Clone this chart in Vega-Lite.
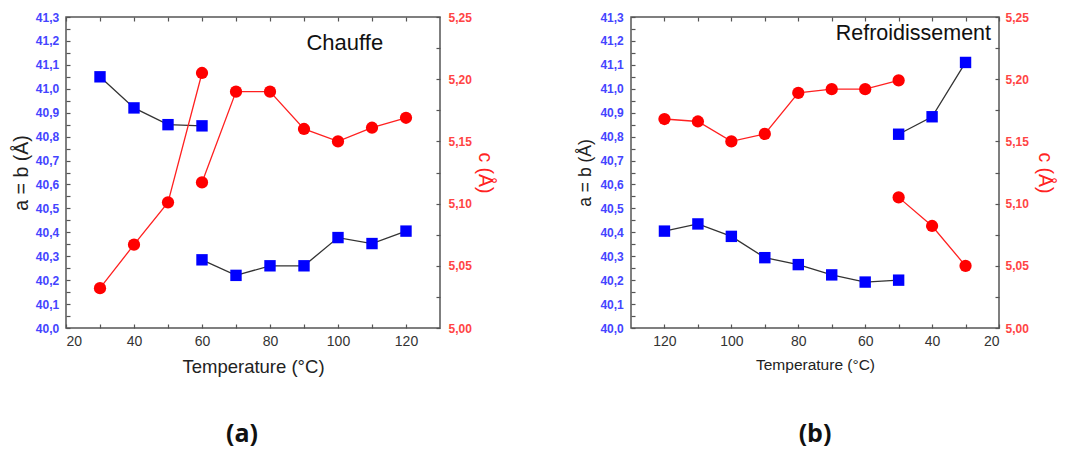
{
  "$schema": "https://vega.github.io/schema/vega-lite/v6.json",
  "background": "white",
  "padding": {"left": 10, "top": 10, "right": 5, "bottom": 0},
  "config": {
    "font": "Liberation Sans",
    "view": {"stroke": "#555555", "strokeWidth": 1.5},
    "concat": {"spacing": 80},
    "axis": {"domain": false, "grid": false, "labelOverlap": false, "tickColor": "#555555", "tickSize": -4, "tickWidth": 1.2}
  },
  "datasets": {
    "heat": [
      {"T": 30, "param": "a", "seg": 1, "value": 41.05},
      {"T": 40, "param": "a", "seg": 1, "value": 40.92},
      {"T": 50, "param": "a", "seg": 1, "value": 40.85},
      {"T": 60, "param": "a", "seg": 1, "value": 40.845},
      {"T": 60, "param": "a", "seg": 2, "value": 40.285},
      {"T": 70, "param": "a", "seg": 2, "value": 40.22},
      {"T": 80, "param": "a", "seg": 2, "value": 40.26},
      {"T": 90, "param": "a", "seg": 2, "value": 40.26},
      {"T": 100, "param": "a", "seg": 2, "value": 40.378},
      {"T": 110, "param": "a", "seg": 2, "value": 40.353},
      {"T": 120, "param": "a", "seg": 2, "value": 40.405},
      {"T": 30, "param": "c", "seg": 1, "value": 5.032},
      {"T": 40, "param": "c", "seg": 1, "value": 5.067},
      {"T": 50, "param": "c", "seg": 1, "value": 5.101},
      {"T": 60, "param": "c", "seg": 1, "value": 5.205},
      {"T": 60, "param": "c", "seg": 2, "value": 5.117},
      {"T": 70, "param": "c", "seg": 2, "value": 5.19},
      {"T": 80, "param": "c", "seg": 2, "value": 5.19},
      {"T": 90, "param": "c", "seg": 2, "value": 5.16},
      {"T": 100, "param": "c", "seg": 2, "value": 5.15},
      {"T": 110, "param": "c", "seg": 2, "value": 5.161},
      {"T": 120, "param": "c", "seg": 2, "value": 5.169}
    ],
    "cool": [
      {"T": 120, "param": "a", "seg": 1, "value": 40.405},
      {"T": 110, "param": "a", "seg": 1, "value": 40.435},
      {"T": 100, "param": "a", "seg": 1, "value": 40.383},
      {"T": 90, "param": "a", "seg": 1, "value": 40.294},
      {"T": 80, "param": "a", "seg": 1, "value": 40.265},
      {"T": 70, "param": "a", "seg": 1, "value": 40.222},
      {"T": 60, "param": "a", "seg": 1, "value": 40.192},
      {"T": 50, "param": "a", "seg": 1, "value": 40.2},
      {"T": 50, "param": "a", "seg": 2, "value": 40.81},
      {"T": 40, "param": "a", "seg": 2, "value": 40.883},
      {"T": 30, "param": "a", "seg": 2, "value": 41.11},
      {"T": 120, "param": "c", "seg": 1, "value": 5.168},
      {"T": 110, "param": "c", "seg": 1, "value": 5.166},
      {"T": 100, "param": "c", "seg": 1, "value": 5.15},
      {"T": 90, "param": "c", "seg": 1, "value": 5.156},
      {"T": 80, "param": "c", "seg": 1, "value": 5.189},
      {"T": 70, "param": "c", "seg": 1, "value": 5.192},
      {"T": 60, "param": "c", "seg": 1, "value": 5.192},
      {"T": 50, "param": "c", "seg": 1, "value": 5.199},
      {"T": 50, "param": "c", "seg": 2, "value": 5.105},
      {"T": 40, "param": "c", "seg": 2, "value": 5.082},
      {"T": 30, "param": "c", "seg": 2, "value": 5.05}
    ],
    "notes": [
      {"panel": "heat", "T": 102, "value": 41.193, "label": "Chauffe"},
      {"panel": "cool", "T": 45.6, "value": 41.227, "label": "Refroidissement"}
    ]
  },
  "hconcat": [
    {
      "width": 374,
      "height": 311,
      "title": {"text": "(a)", "orient": "bottom", "fontSize": 25, "fontWeight": "bold", "font": "Open Sans", "color": "#111111", "offset": 46, "anchor": "middle", "frame": "group", "dx": -11},
      "resolve": {"scale": {"y": "independent"}, "axis": {"x": "independent", "y": "independent"}},
      "layer": [
        {
          "encoding": {
            "x": {"field": "T", "type": "quantitative", "scale": {"domain": [20, 130], "nice": false},
              "axis": {"values": [20, 30, 40, 50, 60, 70, 80, 90, 100, 110, 120], "labelExpr": "datum.value % 20 == 0 ? datum.value : ''", "title": "Temperature (°C)", "titleFontSize": 18.5, "titleFontWeight": "normal", "titleColor": "#222222", "titlePadding": 9, "labelFontSize": 14, "labelColor": "#333333", "labelPadding": 10.7}},
            "y": {"field": "value", "type": "quantitative", "scale": {"domain": [40.0, 41.3], "nice": false, "zero": false},
              "axis": {"orient": "left", "values": [40.0, 40.05, 40.1, 40.15, 40.2, 40.25, 40.3, 40.35, 40.4, 40.45, 40.5, 40.55, 40.6, 40.65, 40.7, 40.75, 40.8, 40.85, 40.9, 40.95, 41.0, 41.05, 41.1, 41.15, 41.2, 41.25, 41.3], "labelExpr": "abs(datum.value * 10 - round(datum.value * 10)) < 0.001 ? replace(format(datum.value, '.1f'), '.', ',') : ''", "title": "a = b (Å)", "titleFontSize": 19.5, "titleFontWeight": "normal", "titleColor": "#222222", "titlePadding": 4, "labelFontSize": 12, "labelFontWeight": "bold", "labelColor": "#4444ff", "labelPadding": 11.3}}
          },
          "layer": [
            {"data": {"name": "heat"}, "transform": [{"filter": "datum.param == 'a'"}], "mark": {"type": "line", "color": "#333333", "strokeWidth": 1.3}, "encoding": {"detail": {"field": "seg"}}},
            {"data": {"name": "heat"}, "transform": [{"filter": "datum.param == 'a'"}], "mark": {"type": "point", "shape": "square", "filled": true, "color": "#0000ff", "opacity": 1, "size": 130}},
            {"data": {"name": "notes"}, "transform": [{"filter": "datum.panel == 'heat'"}], "mark": {"type": "text", "fontSize": 22, "color": "#111111", "align": "center", "baseline": "middle"}, "encoding": {"text": {"field": "label"}}}
          ]
        },
        {
          "data": {"name": "heat"},
          "transform": [{"filter": "datum.param == 'c'"}],
          "encoding": {
            "x": {"field": "T", "type": "quantitative", "scale": {"domain": [20, 130], "nice": false},
              "axis": {"orient": "top", "values": [20, 30, 40, 50, 60, 70, 80, 90, 100, 110, 120], "labels": false, "title": null}},
            "y": {"field": "value", "type": "quantitative", "scale": {"domain": [5.0, 5.25], "nice": false, "zero": false},
              "axis": {"orient": "right", "values": [5.0, 5.025, 5.05, 5.075, 5.1, 5.125, 5.15, 5.175, 5.2, 5.225, 5.25], "labelExpr": "abs(datum.value * 20 - round(datum.value * 20)) < 0.001 ? replace(format(datum.value, '.2f'), '.', ',') : ''", "title": "c (Å)", "titleFontSize": 19.5, "titleFontWeight": "normal", "titleColor": "#ff2222", "titlePadding": 3, "labelFontSize": 12, "labelFontWeight": "bold", "labelColor": "#ff4444", "labelPadding": 12}}
          },
          "layer": [
            {"mark": {"type": "line", "color": "#ff2020", "strokeWidth": 1.3}, "encoding": {"detail": {"field": "seg"}}},
            {"mark": {"type": "point", "shape": "circle", "filled": true, "color": "#ff0000", "opacity": 1, "size": 150}}
          ]
        }
      ]
    },
    {
      "width": 368,
      "height": 311,
      "title": {"text": "(b)", "orient": "bottom", "fontSize": 25, "fontWeight": "bold", "font": "Open Sans", "color": "#111111", "offset": 49, "anchor": "middle", "frame": "group"},
      "resolve": {"scale": {"y": "independent"}, "axis": {"x": "independent", "y": "independent"}},
      "layer": [
        {
          "encoding": {
            "x": {"field": "T", "type": "quantitative", "scale": {"domain": [20, 130], "nice": false, "reverse": true},
              "axis": {"values": [20, 30, 40, 50, 60, 70, 80, 90, 100, 110, 120], "labelExpr": "datum.value % 20 == 0 ? datum.value : ''", "title": "Temperature (°C)", "titleFontSize": 15.5, "titleFontWeight": "normal", "titleColor": "#222222", "titlePadding": 9, "labelFontSize": 14, "labelColor": "#333333", "labelPadding": 10.7}},
            "y": {"field": "value", "type": "quantitative", "scale": {"domain": [40.0, 41.3], "nice": false, "zero": false},
              "axis": {"orient": "left", "values": [40.0, 40.05, 40.1, 40.15, 40.2, 40.25, 40.3, 40.35, 40.4, 40.45, 40.5, 40.55, 40.6, 40.65, 40.7, 40.75, 40.8, 40.85, 40.9, 40.95, 41.0, 41.05, 41.1, 41.15, 41.2, 41.25, 41.3], "labelExpr": "abs(datum.value * 10 - round(datum.value * 10)) < 0.001 ? replace(format(datum.value, '.1f'), '.', ',') : ''", "title": "a = b (Å)", "titleFontSize": 17.5, "titleFontWeight": "normal", "titleColor": "#222222", "titlePadding": 5, "labelFontSize": 12, "labelFontWeight": "bold", "labelColor": "#4444ff", "labelPadding": 11.7}}
          },
          "layer": [
            {"data": {"name": "cool"}, "transform": [{"filter": "datum.param == 'a'"}], "mark": {"type": "line", "color": "#333333", "strokeWidth": 1.3}, "encoding": {"detail": {"field": "seg"}}},
            {"data": {"name": "cool"}, "transform": [{"filter": "datum.param == 'a'"}], "mark": {"type": "point", "shape": "square", "filled": true, "color": "#0000ff", "opacity": 1, "size": 130}},
            {"data": {"name": "notes"}, "transform": [{"filter": "datum.panel == 'cool'"}], "mark": {"type": "text", "fontSize": 21.5, "color": "#111111", "align": "center", "baseline": "middle"}, "encoding": {"text": {"field": "label"}}}
          ]
        },
        {
          "data": {"name": "cool"},
          "transform": [{"filter": "datum.param == 'c'"}],
          "encoding": {
            "x": {"field": "T", "type": "quantitative", "scale": {"domain": [20, 130], "nice": false, "reverse": true},
              "axis": {"orient": "top", "values": [20, 30, 40, 50, 60, 70, 80, 90, 100, 110, 120], "labels": false, "title": null}},
            "y": {"field": "value", "type": "quantitative", "scale": {"domain": [5.0, 5.25], "nice": false, "zero": false},
              "axis": {"orient": "right", "values": [5.0, 5.025, 5.05, 5.075, 5.1, 5.125, 5.15, 5.175, 5.2, 5.225, 5.25], "labelExpr": "abs(datum.value * 20 - round(datum.value * 20)) < 0.001 ? replace(format(datum.value, '.2f'), '.', ',') : ''", "title": "c (Å)", "titleFontSize": 19.5, "titleFontWeight": "normal", "titleColor": "#ff2222", "titlePadding": 6, "labelFontSize": 12, "labelFontWeight": "bold", "labelColor": "#ff4444", "labelPadding": 10}}
          },
          "layer": [
            {"mark": {"type": "line", "color": "#ff2020", "strokeWidth": 1.3}, "encoding": {"detail": {"field": "seg"}}},
            {"mark": {"type": "point", "shape": "circle", "filled": true, "color": "#ff0000", "opacity": 1, "size": 150}}
          ]
        }
      ]
    }
  ]
}
